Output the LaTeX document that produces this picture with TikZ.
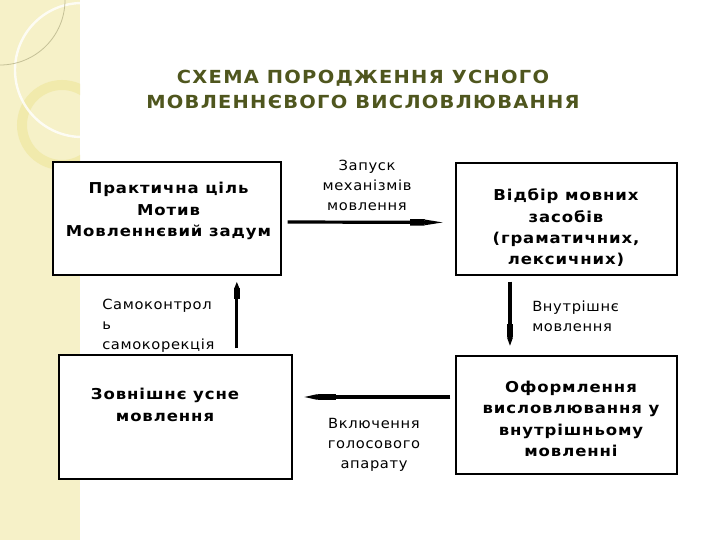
\documentclass[tikz,border=0pt]{standalone}
\usepackage{fontspec}
\setmainfont{DejaVu Sans}
\usetikzlibrary{arrows.meta}
\definecolor{stripcol}{RGB}{246,241,200}
\definecolor{stripline}{RGB}{196,192,150}
\definecolor{ringcol}{RGB}{241,234,172}
\definecolor{titlecol}{RGB}{79,86,30}
\begin{document}
\begin{tikzpicture}[x=0.75pt,y=-0.75pt,
  box/.style={draw, line width=0.9pt, fill=white, inner sep=0pt},
  btxt/.style={font=\fontsize{11.25}{16}\selectfont\bfseries\addfontfeature{FakeStretch=1.1,LetterSpace=6}, align=center, inner sep=0pt},
  ltxt/.style={font=\fontsize{10.5}{15}\selectfont\addfontfeature{FakeStretch=1.05,LetterSpace=4.5}, inner sep=0pt},
  ttxt/.style={font=\fontsize{13.5}{18.75}\selectfont\bfseries\addfontfeature{FakeStretch=1.08,LetterSpace=7}, text=titlecol, align=center, inner sep=0pt},
  conn/.style={line width=2.4pt, -{Rectangle[length=#1,width=4.8pt,sep=0pt] Triangle[length=\tiplen,width=3.4pt,sep=0pt]}},
]
\useasboundingbox (0,0) rectangle (720,540);
\fill[white] (0,0) rectangle (720,540);
\begin{scope}
  \clip (0,0) rectangle (80,540);
  \fill[stripcol] (0,0) rectangle (80,540);
  \draw[ringcol, line width=7.5pt] (62,125) circle[radius=30pt];
  \draw[white, line width=1.8pt, opacity=0.8] (82,70) circle[radius=50.25pt];
  \draw[stripline, line width=0.6pt] (0,0) circle[radius=48.75pt];
\end{scope}

\node[ttxt] (title) at (363,89) {СХЕМА ПОРОДЖЕННЯ УСНОГО\\МОВЛЕННЄВОГО ВИСЛОВЛЮВАННЯ};

\node[box, minimum width=171pt, minimum height=84.75pt] (b1) at (167,218.5) {};
\node[box, minimum width=165.75pt, minimum height=84pt] (b2) at (566.5,219) {};
\node[box, minimum width=174.75pt, minimum height=93pt] (b3) at (175.5,417) {};
\node[box, minimum width=165.75pt, minimum height=88.5pt] (b4) at (566.5,415) {};

\node[btxt] (t1) at (168.5,211) {Практична ціль\\Мотив\\Мовленнєвий задум};
\node[btxt] (t2) at (566,228) {Відбір мовних\\засобів\\(граматичних,\\лексичних)};
\node[btxt] (t3) at (165,405) {Зовнішнє усне\\мовлення};
\node[btxt] (t4) at (571,419) {Оформлення\\висловлювання у\\внутрішньому\\мовленні};

\node[ltxt, align=center] (l1) at (367,185) {Запуск\\механізмів\\мовлення};
\node[ltxt, align=left, anchor=west] (l2) at (102,326) {Самоконтрол\\ь\\самокорекція};
\node[ltxt, align=left, anchor=west] (l3) at (532,316) {Внутрішнє\\мовлення};
\node[ltxt, align=center] (l4) at (374,445) {Включення\\голосового\\апарату};

\def\tiplen{20pt}
\draw[conn=11pt, shorten <=4.5pt, shorten >=3pt] ([yshift=-2.6pt]b1.east) -- ([yshift=-2.6pt]b2.west);
\def\tiplen{9pt}
\draw[conn=10pt, shorten <=4.5pt, shorten >=4.5pt] ([xshift=-42.4pt]b2.south) -- ([xshift=-42.4pt]b2.south |- b4.north);
\def\tiplen{15pt}
\draw[conn=13.5pt, shorten <=3.75pt, shorten >=3.75pt] ([yshift=13.5pt]b4.west) -- ([yshift=13.5pt]b4.west -| b3.east);
\def\tiplen{5pt}
\draw[conn=8pt, shorten <=4.5pt, shorten >=4.5pt] ([xshift=46pt]b3.north) -- ([xshift=46pt]b3.north |- b1.south);
\end{tikzpicture}
\end{document}
